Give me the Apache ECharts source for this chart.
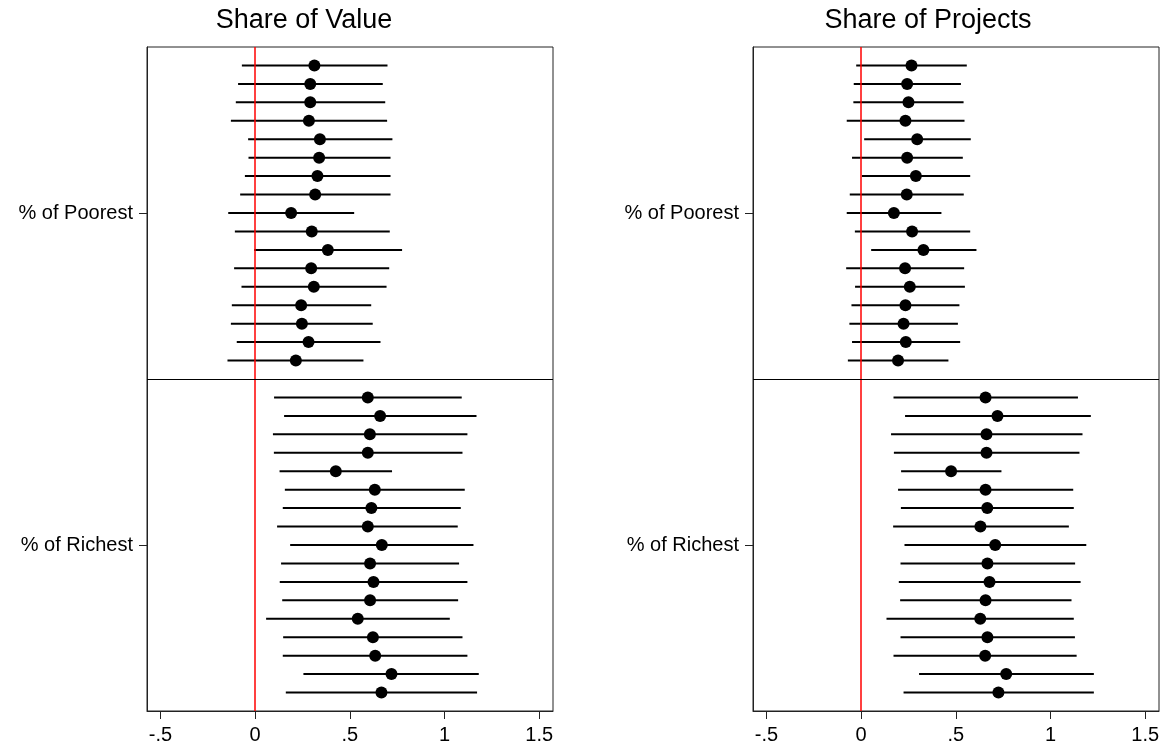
<!DOCTYPE html>
<html>
<head>
<meta charset="utf-8">
<script src="https://cdn.jsdelivr.net/npm/echarts@6/dist/echarts.min.js"></script>
<style>
  html, body { margin: 0; padding: 0; background: #fff; }
  #chart { width: 1165px; height: 748px; }
</style>
</head>
<body>
<div id="chart"></div>
<script>
// Panel titles and row groups
const panelTitles = ['Share of Value', 'Share of Projects'];
const rowGroups = ['% of Poorest', '% of Richest'];

// x-axis tick positions and their printed labels
const xTickValues = [-0.5, 0, 0.5, 1, 1.5];
const xTickLabels = ['-.5', '0', '.5', '1', '1.5'];

// Share of Value — poorest group: point estimates and interval bounds (top to bottom)
const valuePoorestEst = [0.313, 0.291, 0.291, 0.284, 0.342, 0.338, 0.329, 0.317, 0.190, 0.299, 0.384, 0.296, 0.310, 0.243, 0.247, 0.282, 0.215];
const valuePoorestLo  = [-0.070, -0.090, -0.102, -0.128, -0.037, -0.035, -0.054, -0.079, -0.142, -0.107, -0.005, -0.111, -0.072, -0.123, -0.128, -0.097, -0.146];
const valuePoorestHi  = [0.699, 0.674, 0.687, 0.697, 0.725, 0.715, 0.715, 0.715, 0.523, 0.711, 0.776, 0.708, 0.694, 0.613, 0.621, 0.662, 0.572];

// Share of Value — richest group
const valueRichestEst = [0.595, 0.660, 0.606, 0.595, 0.426, 0.632, 0.614, 0.595, 0.669, 0.607, 0.625, 0.607, 0.542, 0.622, 0.634, 0.720, 0.667];
const valueRichestLo  = [0.100, 0.153, 0.094, 0.099, 0.129, 0.157, 0.146, 0.116, 0.185, 0.137, 0.130, 0.143, 0.058, 0.148, 0.146, 0.255, 0.162];
const valueRichestHi  = [1.091, 1.169, 1.121, 1.095, 0.723, 1.107, 1.086, 1.070, 1.153, 1.077, 1.121, 1.072, 1.028, 1.095, 1.121, 1.181, 1.172];

// Share of Projects — poorest group
const projPoorestEst = [0.266, 0.243, 0.250, 0.234, 0.296, 0.243, 0.289, 0.241, 0.173, 0.269, 0.329, 0.232, 0.257, 0.234, 0.224, 0.236, 0.195];
const projPoorestLo  = [-0.026, -0.039, -0.041, -0.076, 0.016, -0.048, 0.004, -0.060, -0.076, -0.033, 0.053, -0.079, -0.032, -0.051, -0.062, -0.048, -0.070];
const projPoorestHi  = [0.558, 0.527, 0.541, 0.546, 0.579, 0.537, 0.576, 0.542, 0.424, 0.576, 0.609, 0.544, 0.548, 0.519, 0.511, 0.523, 0.461];

// Share of Projects — richest group
const projRichestEst = [0.657, 0.720, 0.662, 0.662, 0.475, 0.657, 0.666, 0.630, 0.708, 0.667, 0.678, 0.657, 0.629, 0.667, 0.655, 0.766, 0.725];
const projRichestLo  = [0.171, 0.232, 0.158, 0.173, 0.211, 0.195, 0.210, 0.169, 0.229, 0.208, 0.199, 0.206, 0.134, 0.208, 0.171, 0.306, 0.224];
const projRichestHi  = [1.145, 1.213, 1.169, 1.153, 0.741, 1.120, 1.123, 1.097, 1.189, 1.130, 1.159, 1.111, 1.123, 1.129, 1.138, 1.229, 1.229];

// Row layout: each group gets 17 rows on a shared vertical scale,
// the poorest block occupies slots 1..17, the richest block 19..35, divider at 18.
const ROWS = 17;
const Y_MAX = 2 * (ROWS + 1);
const DIVIDER = ROWS + 1;
const groupCenters = [(ROWS + 1) / 2, (ROWS + 1) + (ROWS + 1) / 2];

const FONT = '"Liberation Sans", Arial, Helvetica, sans-serif';

function rowsOf(est, lo, hi, offset) {
  return est.map((e, i) => ({ est: e, lo: lo[i], hi: hi[i], y: offset + i + 1 }));
}

const panels = [
  rowsOf(valuePoorestEst, valuePoorestLo, valuePoorestHi, 0)
    .concat(rowsOf(valueRichestEst, valueRichestLo, valueRichestHi, ROWS + 1)),
  rowsOf(projPoorestEst, projPoorestLo, projPoorestHi, 0)
    .concat(rowsOf(projRichestEst, projRichestLo, projRichestHi, ROWS + 1))
];

const gridLefts = [147, 753];
const titleCenters = [304, 928];

const grids = gridLefts.map(l => ({
  left: l, top: 47, width: 406, height: 664,
  show: true, borderColor: '#222', borderWidth: 1, backgroundColor: '#fff'
}));

const xAxes = gridLefts.map((_, i) => ({
  type: 'value', gridIndex: i, min: -0.571, max: 1.573,
  splitLine: { show: false },
  axisLine: { show: true, onZero: false, lineStyle: { color: '#222', width: 1 } },
  axisTick: { show: true, length: 8, customValues: xTickValues, lineStyle: { color: '#222', width: 1 } },
  axisLabel: {
    customValues: xTickValues, margin: 14, color: '#000', fontSize: 20, fontFamily: FONT,
    formatter: v => {
      const k = xTickValues.findIndex(t => Math.abs(t - v) < 1e-9);
      return k >= 0 ? xTickLabels[k] : '';
    }
  }
}));

const yAxes = gridLefts.map((_, i) => ({
  type: 'value', gridIndex: i, min: 0, max: Y_MAX, inverse: true,
  splitLine: { show: false },
  axisLine: { show: true, onZero: false, lineStyle: { color: '#222', width: 1 } },
  axisTick: { show: true, length: 8, customValues: groupCenters, lineStyle: { color: '#222', width: 1 } },
  axisLabel: {
    customValues: groupCenters, margin: 14, color: '#000', fontSize: 20, fontFamily: FONT,
    formatter: v => {
      const k = groupCenters.findIndex(t => Math.abs(t - v) < 1e-9);
      return k >= 0 ? rowGroups[k] : '';
    }
  }
}));

const series = [];
panels.forEach((rows, i) => {
  // confidence intervals as horizontal segments
  series.push({
    type: 'custom', xAxisIndex: i, yAxisIndex: i, z: 2,
    data: rows.map(r => [r.lo, r.hi, r.y]),
    encode: { x: [0, 1], y: 2 },
    renderItem: (params, api) => {
      const a = api.coord([api.value(0), api.value(2)]);
      const b = api.coord([api.value(1), api.value(2)]);
      return {
        type: 'line',
        shape: { x1: a[0], y1: a[1], x2: b[0], y2: b[1] },
        style: { stroke: '#000', lineWidth: 2 }
      };
    }
  });
  // point estimates, zero reference and group divider
  series.push({
    type: 'scatter', xAxisIndex: i, yAxisIndex: i, z: 4,
    symbol: 'circle', symbolSize: 12,
    itemStyle: { color: '#000', opacity: 1 },
    data: rows.map(r => [r.est, r.y]),
    markLine: {
      silent: true, symbol: 'none', label: { show: false }, animation: false,
      data: [
        { xAxis: 0, lineStyle: { color: '#ff0000', width: 1.5, type: 'solid' } },
        { yAxis: DIVIDER, lineStyle: { color: '#000', width: 1, type: 'solid' } }
      ]
    }
  });
});

const chart = echarts.init(document.getElementById('chart'), null, { renderer: 'canvas' });
chart.setOption({
  animation: false,
  backgroundColor: '#fff',
  grid: grids,
  xAxis: xAxes,
  yAxis: yAxes,
  series: series,
  graphic: panelTitles.map((t, i) => ({
    type: 'text',
    style: {
      text: t, x: titleCenters[i], y: 21, fill: '#000', fontSize: 27, fontFamily: FONT,
      textAlign: 'center', textVerticalAlign: 'middle'
    }
  }))
});
</script>
</body>
</html>
